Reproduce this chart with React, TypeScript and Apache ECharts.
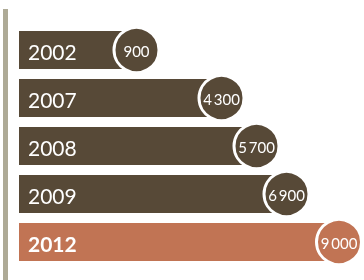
import React, { useEffect, useRef } from "react";
import * as echarts from "echarts";

const years = ["2002", "2007", "2008", "2009", "2012"];
const values = [900, 4300, 5700, 6900, 9000];
const highlightYear = "2012";

const BROWN = "#574937";
const ORANGE = "#c17454";
const RULE = "#aeaa96";
const FONT = "Lato, 'Open Sans', sans-serif";

function fmt(v: number): string {
  return String(v).replace(/\B(?=(\d{3})+(?!\d))/g, "\u2009");
}

export default function App() {
  const ref = useRef<HTMLDivElement>(null);
  useEffect(() => {
    const chart = echarts.init(ref.current!, null, { renderer: "svg" });
    chart.setOption({
      animation: false,
      grid: { left: 19, right: 0, top: 26, bottom: 14 },
      xAxis: { type: "value", min: -3800, max: 10000, show: false },
      yAxis: { type: "category", data: years, inverse: true, show: false },
      graphic: [
        {
          type: "rect",
          silent: true,
          shape: { x: 3, y: 9, width: 5, height: 271 },
          style: { fill: RULE },
        },
      ],
      series: [
        {
          type: "custom",
          clip: false,
          data: values.map((v, i) => [v, i]),
          encode: { x: 0, y: 1 },
          renderItem: (params: any, api: any) => {
            const v = api.value(0);
            const idx = api.value(1);
            const pt = api.coord([v, idx]);
            const band = api.size([0, 1])[1];
            const h = band * 0.79;
            const cs = params.coordSys;
            const hl = years[idx] === highlightYear;
            const color = hl ? ORANGE : BROWN;
            return {
              type: "group",
              children: [
                {
                  type: "rect",
                  shape: { x: cs.x, y: pt[1] - h / 2, width: pt[0] - cs.x, height: h },
                  style: { fill: color },
                },
                {
                  type: "circle",
                  shape: { cx: pt[0], cy: pt[1], r: 22.5 },
                  style: { fill: color, stroke: "#ffffff", lineWidth: 3 },
                },
                {
                  type: "text",
                  x: 28,
                  y: pt[1] + 1,
                  style: {
                    text: years[idx],
                    fill: "#ffffff",
                    fontFamily: FONT,
                    fontSize: 21,
                    fontWeight: hl ? "bold" : "normal",
                    align: "left",
                    verticalAlign: "middle",
                  },
                },
                {
                  type: "text",
                  x: pt[0],
                  y: pt[1] + 1,
                  style: {
                    text: fmt(v),
                    fill: "#ffffff",
                    fontFamily: FONT,
                    fontSize: 15,
                    align: "center",
                    verticalAlign: "middle",
                  },
                },
              ],
            };
          },
        },
      ],
    });
    return () => chart.dispose();
  }, []);
  return (
    <div
      ref={ref}
      style={{ position: "fixed", left: 0, top: 0, width: 364, height: 280 }}
    />
  );
}
